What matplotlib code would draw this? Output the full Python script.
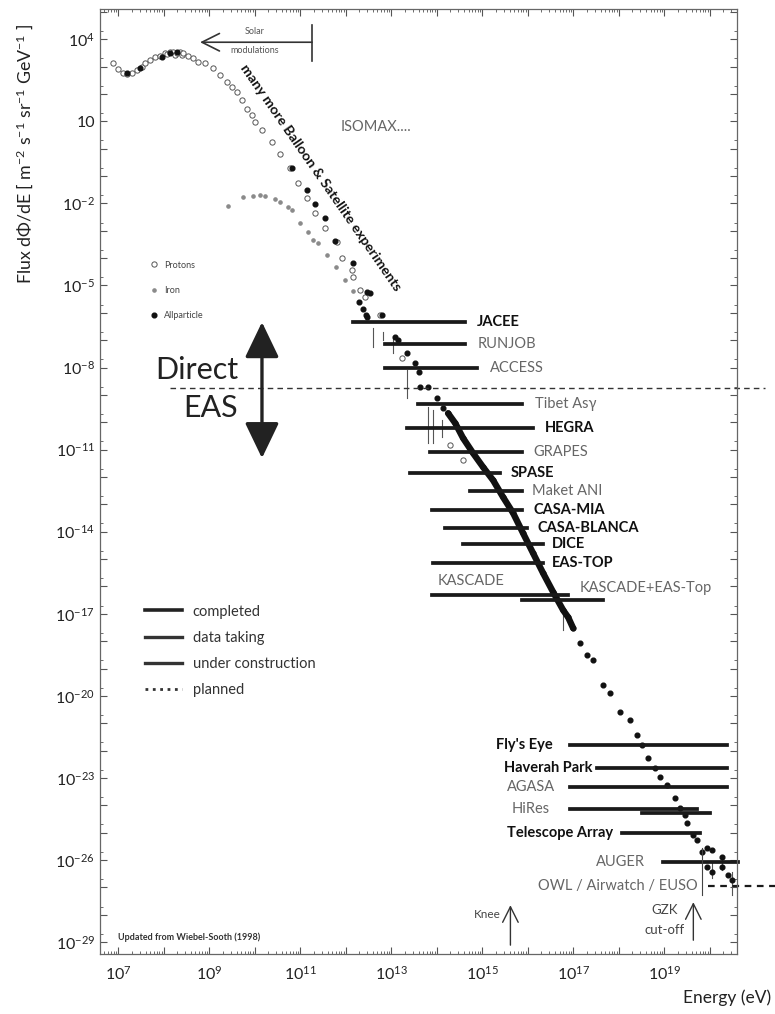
import matplotlib.pyplot as plt
import numpy as np
from matplotlib.lines import Line2D
from matplotlib.ticker import FixedLocator, FuncFormatter, LogLocator, NullFormatter

plt.rcParams['font.family'] = ['Lato', 'DejaVu Sans']
plt.rcParams['mathtext.fontset'] = 'custom'
plt.rcParams['mathtext.rm'] = 'Lato'
plt.rcParams['mathtext.default'] = 'regular'

# all values are log10(E / eV) and log10(flux)
proton_logE = [6.89, 7.00, 7.11, 7.20, 7.31, 7.42, 7.53, 7.59, 7.70, 7.81, 7.92, 8.03,
               8.08, 8.14, 8.20, 8.25, 8.30, 8.35, 8.40, 8.43, 8.54, 8.65, 8.76, 8.91,
               9.09, 9.24, 9.40, 9.51, 9.62, 9.73, 9.84, 9.95, 10.01, 10.16, 10.38,
               10.56, 10.78, 10.96, 11.15, 11.33, 11.55, 11.81, 11.92, 12.14, 12.16,
               12.32, 12.43, 12.76, 13.24, 14.30, 14.58]
proton_logF = [3.12, 2.90, 2.76, 2.72, 2.76, 2.87, 2.98, 3.12, 3.23, 3.34, 3.38, 3.49,
               3.45, 3.52, 3.55, 3.42, 3.49, 3.55, 3.42, 3.49, 3.38, 3.31, 3.16, 3.12,
               2.94, 2.68, 2.43, 2.25, 2.06, 1.77, 1.44, 1.22, 0.97, 0.67, 0.24,
               -0.20, -0.71, -1.26, -1.81, -2.36, -2.91, -3.42, -4.00, -4.44, -4.70,
               -5.17, -5.43, -6.09, -7.66, -10.84, -11.39]

iron_logE = [9.42, 9.75, 9.97, 10.12, 10.23, 10.45, 10.56, 10.74, 10.82, 11.00, 11.18,
             11.29, 11.40, 11.59, 11.79, 11.99, 12.16]
iron_logF = [-2.10, -1.77, -1.74, -1.70, -1.74, -1.85, -1.96, -2.14, -2.25, -2.73, -3.05,
             -3.35, -3.46, -3.89, -4.33, -4.81, -5.21]

allpart_logE = [7.20, 7.48, 7.97, 8.14, 8.30, 10.82, 11.15, 11.33, 11.55, 11.77, 12.16,
                12.30, 12.38, 12.45, 12.47, 12.54,
                12.47, 12.80, 13.09, 13.15, 13.35, 13.53, 13.62, 13.64, 13.81, 14.01,
                14.14, 14.25, 14.41, 14.58, 14.80, 15.02, 15.24, 15.46, 15.68, 15.90,
                16.12, 16.34, 16.56, 16.78, 16.89, 17.00, 17.15, 17.31, 17.44, 17.66,
                17.81, 18.03, 18.25, 18.41, 18.52, 18.65, 18.80, 18.91, 19.07, 19.24,
                19.35, 19.46, 19.51, 19.64, 19.73, 19.84, 19.95, 20.05, 19.95, 20.05,
                20.27, 20.27, 20.41, 20.49]
allpart_logF = [2.76, 2.94, 3.34, 3.49, 3.52, -0.71, -1.52, -2.03, -2.54, -3.38, -4.19,
                -5.61, -5.87, -6.09, -5.25, -5.28,
                -6.16, -6.09, -6.89, -7.00, -7.48, -7.84, -8.17, -8.72, -8.72, -9.12,
                -9.49, -9.67, -10.04, -10.58, -11.13, -11.64, -12.12, -12.74, -13.32, -14.06,
                -14.79, -15.52, -16.21, -16.87, -17.13, -17.53, -18.08, -18.51, -18.70, -19.61,
                -19.90, -20.60, -20.89, -21.44, -21.80, -22.28, -22.64, -22.97, -23.27, -23.74,
                -24.11, -24.36, -24.65, -25.09, -25.28, -25.71, -25.57, -25.64, -26.26, -26.45,
                -25.90, -26.26, -26.56, -26.74]

# dense band of the all-particle spectrum (knee region)
band_logE = [14.25, 14.41, 14.58, 14.80, 15.02, 15.24, 15.46, 15.68, 15.90, 16.12, 16.34,
             16.56, 16.78, 16.89, 17.00]
band_logF = [-9.67, -10.04, -10.58, -11.13, -11.64, -12.12, -12.74, -13.32, -14.06, -14.79,
             -15.52, -16.21, -16.87, -17.13, -17.53]

# vertical error bars: energy, upper, lower
err_logE = [12.60, 12.82, 13.03, 13.35, 13.81, 13.92, 14.12, 16.78, 20.05, 20.27, 20.49]
err_hi = [-6.56, -6.70, -6.89, -8.10, -9.45, -9.56, -9.93, -16.76, -26.08, -25.82, -26.45]
err_lo = [-7.26, -6.98, -7.48, -9.12, -10.77, -10.77, -10.55, -17.60, -26.66, -26.37, -27.29]

# experiments: name, energy range, flux level, completed?, label position
exp_names = ['JACEE', 'RUNJOB', 'ACCESS', 'Tibet As\u03b3', 'HEGRA', 'GRAPES', 'SPASE',
             'Maket ANI', 'CASA-MIA', 'CASA-BLANCA', 'DICE', 'EAS-TOP', 'KASCADE',
             'KASCADE+EAS-Top', "Fly's Eye", 'Haverah Park', 'AGASA', 'HiRes', '',
             'Telescope Array', 'AUGER', 'OWL / Airwatch / EUSO']
exp_lo = [12.17, 12.87, 12.87, 13.59, 13.35, 13.86, 13.42, 14.74, 13.90, 14.19, 14.58,
          13.92, 13.90, 15.88, 16.93, 17.53, 16.93, 16.93, 18.52, 18.08, 18.98, 19.97]
exp_hi = [14.63, 14.63, 14.89, 15.88, 16.12, 15.88, 15.40, 15.88, 15.88, 15.99, 16.34,
          16.34, 16.89, 17.66, 20.38, 20.38, 20.38, 19.73, 20.01, 19.79, 20.63, 21.44]
exp_flux = [-6.34, -7.15, -8.02, -9.34, -10.22, -11.09, -11.86, -12.52, -13.21, -13.87,
            -14.46, -15.15, -16.32, -16.50, -21.80, -22.64, -23.34, -24.14, -24.29,
            -25.02, -26.08, -26.96]
exp_done = [True, False, False, False, True, False, True, False, True, True, True, True,
            False, False, True, True, False, False, False, True, False, False]
exp_planned = [False] * 21 + [True]
label_logE = [14.89, 14.89, 15.18, 16.16, 16.38, 16.12, 15.62, 16.10, 16.12, 16.21, 16.54,
              16.54, 14.01, 17.15, 16.54, 17.42, 16.60, 16.49, 0, 17.88, 18.58, 19.73]
label_logF = exp_flux[:12] + [-16.05, -16.07] + exp_flux[14:]
label_ha = ['left'] * 14 + ['right'] * 8

fig = plt.figure(figsize=(7.75, 10.14), dpi=100)
ax = fig.add_axes([0.129, 0.059, 0.822, 0.932])
ax.set_xscale('log')
ax.set_yscale('log')
ax.set_xlim(10**6.60, 10**20.60)
ax.set_ylim(10**-29.44, 10**5.10)

P = lambda v: 10.0**np.asarray(v)

for x, a, b in zip(err_logE, err_hi, err_lo):
    ax.plot(P([x, x]), P([a, b]), color='#555', lw=0.8)

ax.plot(P(band_logE), P(band_logF), color='#111', lw=4.6, solid_capstyle='round')
ax.plot(P(iron_logE), P(iron_logF), ls='none', marker='o', ms=2.3, color='#8a8a8a')
ax.plot(P(proton_logE), P(proton_logF), ls='none', marker='o', ms=3.8, mfc='white',
        mec='#555', mew=0.7)
ax.plot(P(allpart_logE), P(allpart_logF), ls='none', marker='o', ms=3.4, color='#111')

for i, name in enumerate(exp_names):
    ls = (0, (3, 2.5)) if exp_planned[i] else '-'
    ax.plot(P([exp_lo[i], exp_hi[i]]), P([exp_flux[i], exp_flux[i]]), color='#1a1a1a',
            lw=1.6 if exp_planned[i] else 2.7, ls=ls, clip_on=False)
    if name:
        va = 'bottom' if name == 'KASCADE' else 'center'
        ax.text(P(label_logE[i]), P(label_logF[i]), name, ha=label_ha[i], va=va,
                fontsize=10.5, fontweight='bold' if exp_done[i] else 'normal',
                color='#111' if exp_done[i] else '#666')

# direct / EAS boundary
ax.plot(P([8.14, 21.22]), P([-8.76, -8.76]), color='#333', lw=1.0, ls=(0, (4, 3)),
        clip_on=False)
ax.text(P(9.64), P(-8.10), 'Direct', ha='right', va='center', fontsize=22, color='#222')
ax.text(P(9.64), P(-9.49), 'EAS', ha='right', va='center', fontsize=22, color='#222')
ax.annotate('', xy=(P(10.16), P(-6.34)), xytext=(P(10.16), P(-11.31)),
            arrowprops=dict(arrowstyle='<|-|>,head_length=1.0,head_width=0.48',
                            mutation_scale=22, lw=2.4, color='#222',
                            shrinkA=0, shrinkB=0))

# solar modulations
ax.plot(P([11.26, 11.26]), P([4.51, 3.20]), color='#333', lw=1.2)
ax.annotate('', xy=(P(8.80), P(3.89)), xytext=(P(11.26), P(3.89)),
            arrowprops=dict(arrowstyle='->,head_length=0.9,head_width=0.45',
                            mutation_scale=14, lw=1.2, color='#333',
                            shrinkA=0, shrinkB=0))
ax.text(P(10.01), P(4.29), 'Solar', ha='center', va='center', fontsize=6.5, color='#555')
ax.text(P(10.01), P(3.60), 'modulations', ha='center', va='center', fontsize=6.5,
        color='#555')

ax.text(P(11.45), P(-1.05), 'many more Balloon & Satellite experiments', rotation=-55.3,
        rotation_mode='anchor', ha='center', va='center', fontsize=10.2,
        fontweight='bold', color='#111')
ax.text(P(11.88), P(0.78), 'ISOMAX....', ha='left', va='center', fontsize=10.5,
        color='#666')

# knee and GZK
ax.annotate('', xy=(P(15.62), P(-27.65)), xytext=(P(15.62), P(-29.11)),
            arrowprops=dict(arrowstyle='->,head_length=0.8,head_width=0.4',
                            mutation_scale=14, lw=1.0, color='#333',
                            shrinkA=0, shrinkB=0))
ax.text(P(15.40), P(-27.98), 'Knee', ha='right', va='center', fontsize=8.5, color='#444')
ax.annotate('', xy=(P(19.64), P(-27.54)), xytext=(P(19.64), P(-28.93)),
            arrowprops=dict(arrowstyle='->,head_length=0.8,head_width=0.4',
                            mutation_scale=14, lw=1.0, color='#333',
                            shrinkA=0, shrinkB=0))
ax.text(P(19.0), P(-27.83), 'GZK', ha='center', va='center', fontsize=9.5, color='#444')
ax.text(P(19.0), P(-28.57), 'cut-off', ha='center', va='center', fontsize=9.5,
        color='#444')
ax.plot(P([19.84, 19.84]), P([-25.57, -27.29]), color='#444', lw=0.8)

ax.text(0.028, 0.018, 'Updated from Wiebel-Sooth (1998)', transform=ax.transAxes,
        ha='left', va='center', fontsize=6.5, fontweight='bold', color='#333')

# legends
mk = [Line2D([], [], ls='none', marker='o', ms=3.8, mfc='white', mec='#555', mew=0.7),
      Line2D([], [], ls='none', marker='o', ms=2.3, color='#8a8a8a'),
      Line2D([], [], ls='none', marker='o', ms=3.4, color='#111')]
leg1 = ax.legend(mk, ['Protons', 'Iron', 'Allparticle'], loc='upper left',
                 bbox_to_anchor=(0.078, 0.734), frameon=False, fontsize=6.5,
                 labelspacing=1.8, handlelength=1.0, handletextpad=0.6,
                 borderpad=0, borderaxespad=0, labelcolor='#444')
ax.add_artist(leg1)
st = [Line2D([], [], color='#222', lw=2.6), Line2D([], [], color='#333', lw=2.4),
      Line2D([], [], color='#333', lw=2.4), Line2D([], [], color='#333', lw=2.0, ls=':')]
ax.legend(st, ['completed', 'data taking', 'under construction', 'planned'],
          loc='upper left', bbox_to_anchor=(0.071, 0.370), frameon=False, fontsize=10.5,
          labelspacing=0.84, handlelength=2.5, handletextpad=0.75, borderpad=0,
          borderaxespad=0, labelcolor='#333')

# axes styling
ax.xaxis.set_major_locator(FixedLocator(P(np.arange(6, 22))))
ax.xaxis.set_minor_locator(LogLocator(base=10, subs=np.arange(2, 10), numticks=100))
ax.xaxis.set_minor_formatter(NullFormatter())
ax.xaxis.set_major_formatter(FuncFormatter(
    lambda v, p: '$10^{%d}$' % round(np.log10(v)) if round(np.log10(v)) % 2 == 1 else ''))
ax.yaxis.set_major_locator(FixedLocator(P(np.arange(-30, 6))))
ax.yaxis.set_minor_locator(LogLocator(base=10, subs=[2], numticks=100))
ax.yaxis.set_minor_formatter(NullFormatter())


def yfmt(v, p):
    k = int(round(np.log10(v)))
    if (4 - k) % 3:
        return ''
    return '10' if k == 1 else '$10^{%d}$' % k


ax.yaxis.set_major_formatter(FuncFormatter(yfmt))
ax.tick_params(which='both', direction='in', top=True, right=True, colors='#555',
               labelcolor='#222', labelsize=11.5)
ax.tick_params(which='major', length=5, width=0.8)
ax.tick_params(which='minor', length=2.5, width=0.6)
ax.tick_params(axis='x', pad=8)
for s in ax.spines.values():
    s.set_color('#666')
    s.set_linewidth(0.9)

fig.text(0.032, 0.848, 'Flux d\u03a6/dE [ m$^{-2}$ s$^{-1}$ sr$^{-1}$ GeV$^{-1}$ ]',
         rotation=90, ha='center', va='center', fontsize=12.8, color='#222')
fig.text(0.995, 0.016, 'Energy (eV)', ha='right', va='center', fontsize=12.5,
         color='#222')

fig.savefig('out.png', dpi=100)
